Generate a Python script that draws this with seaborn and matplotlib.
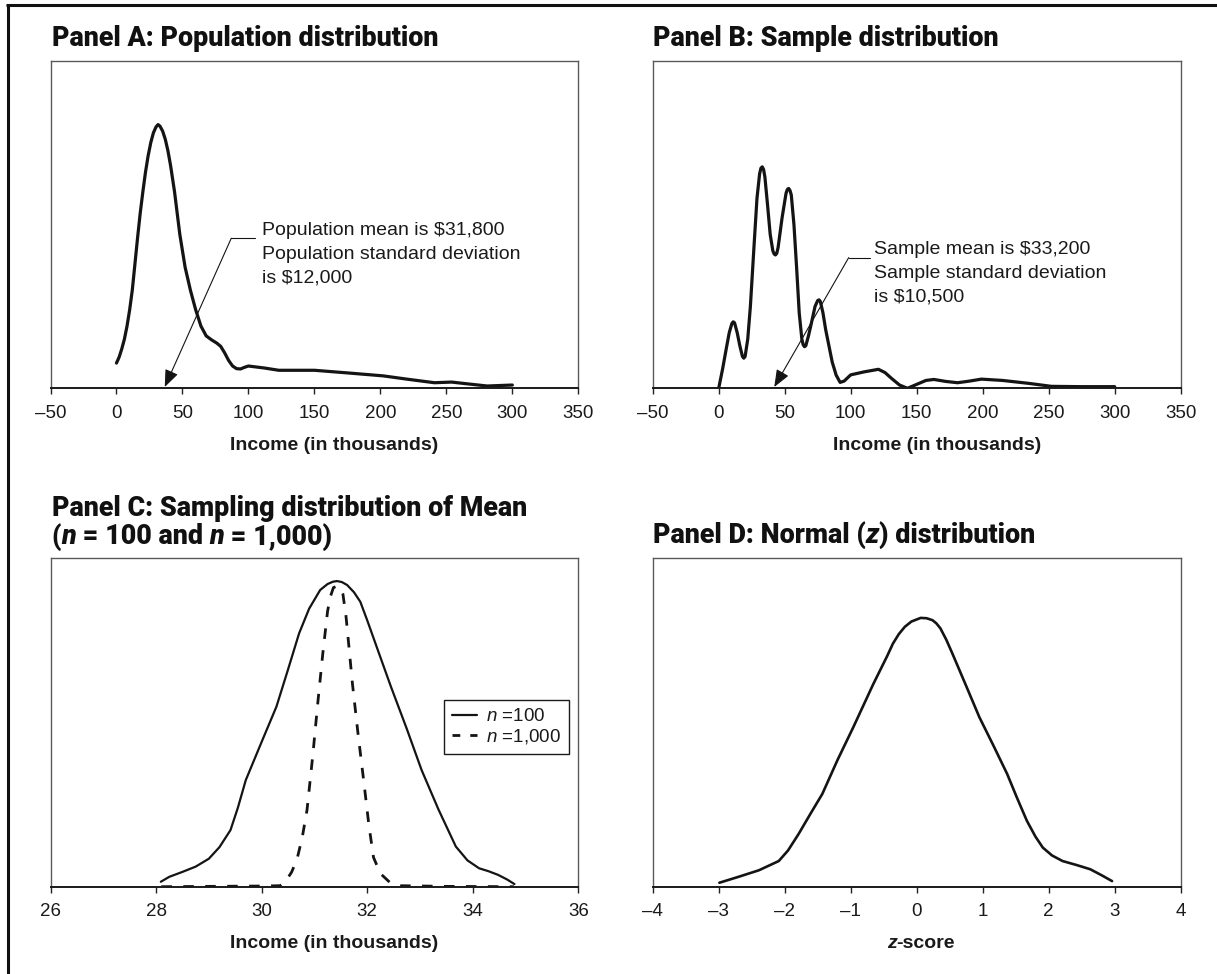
import matplotlib
matplotlib.use("Agg")
import matplotlib.pyplot as plt
import seaborn as sns
from matplotlib.lines import Line2D
from matplotlib.ticker import FixedLocator, FuncFormatter

# ---------------- data ----------------
# Panel A: population income density (relative height)
pop_income = [0, 2, 4, 6, 8, 10, 12, 14, 16, 18, 20, 22, 24, 26, 28, 30, 31.5, 33, 35, 37,
              39, 41, 44, 48, 52, 56, 60, 64, 68, 72, 76, 79, 82, 85, 88, 91, 94, 97, 100,
              112, 123, 150, 175, 202, 220, 241, 254, 265, 281, 300]
pop_density = [0.077, 0.095, 0.12, 0.15, 0.19, 0.24, 0.30, 0.38, 0.46, 0.535, 0.60, 0.66,
               0.71, 0.75, 0.78, 0.798, 0.805, 0.80, 0.785, 0.76, 0.725, 0.68, 0.60, 0.47,
               0.37, 0.30, 0.24, 0.19, 0.16, 0.148, 0.138, 0.128, 0.108, 0.085, 0.068, 0.060,
               0.059, 0.064, 0.068, 0.062, 0.055, 0.055, 0.047, 0.038, 0.028, 0.017, 0.019,
               0.014, 0.007, 0.010]

# Panel B: sample income density
sample_income = [0, 3, 6, 8, 10, 11, 12, 14, 16, 18, 19, 20, 22, 24, 27, 29, 31, 32, 33, 34,
                 35, 37, 39, 41, 42, 43, 44, 45, 48, 51, 52, 53, 54, 55, 57, 59, 61, 63, 64,
                 65, 66, 68, 70, 73, 75, 76, 77, 79, 81, 83, 86, 89, 92, 95, 100, 110, 121,
                 126, 131, 137, 143, 150, 157, 163, 172, 181, 190, 199, 215, 235, 252, 275,
                 300]
sample_density = [0.0, 0.06, 0.127, 0.17, 0.198, 0.203, 0.2, 0.17, 0.13, 0.097, 0.092,
                  0.097, 0.15, 0.25, 0.45, 0.58, 0.655, 0.672, 0.676, 0.668, 0.645, 0.56,
                  0.47, 0.42, 0.41, 0.407, 0.412, 0.43, 0.52, 0.595, 0.607, 0.61, 0.604,
                  0.59, 0.50, 0.37, 0.23, 0.15, 0.133, 0.127, 0.13, 0.16, 0.195, 0.25, 0.268,
                  0.27, 0.265, 0.23, 0.18, 0.14, 0.08, 0.04, 0.018, 0.022, 0.041, 0.05,
                  0.058, 0.048, 0.03, 0.01, 0.0, 0.012, 0.024, 0.027, 0.021, 0.017, 0.022,
                  0.028, 0.024, 0.015, 0.006, 0.005, 0.005]

# Panel C: sampling distributions of the mean
mean100_income = [28.09, 28.25, 28.5, 28.75, 29.0, 29.2, 29.41, 29.55, 29.70, 30.0, 30.28,
                  30.5, 30.71, 30.9, 31.11, 31.25, 31.35, 31.43, 31.52, 31.62, 31.75, 31.87,
                  32.0, 32.2, 32.45, 32.75, 33.03, 33.35, 33.68, 33.9, 34.12, 34.3, 34.48,
                  34.65, 34.79]
mean100_density = [0.015, 0.030, 0.045, 0.061, 0.085, 0.12, 0.172, 0.24, 0.324, 0.44, 0.547,
                   0.66, 0.770, 0.845, 0.902, 0.92, 0.927, 0.929, 0.926, 0.917, 0.895, 0.866,
                   0.81, 0.72, 0.608, 0.48, 0.355, 0.235, 0.122, 0.08, 0.056, 0.047, 0.036,
                   0.022, 0.008]
mean1000_income = [28.1, 29.0, 30.0, 30.35, 30.46, 30.57, 30.67, 30.77, 30.86, 30.97, 31.07,
                   31.16, 31.25, 31.31, 31.36, 31.43, 31.50, 31.54, 31.6, 31.66, 31.72, 31.83,
                   31.94, 32.03, 32.12, 32.25, 32.45, 32.63, 33.5, 34.78]
mean1000_density = [0.0, 0.001, 0.002, 0.003, 0.017, 0.045, 0.083, 0.15, 0.233, 0.40, 0.568,
                    0.71, 0.838, 0.885, 0.909, 0.914, 0.905, 0.890, 0.82, 0.72, 0.618, 0.46,
                    0.314, 0.19, 0.089, 0.04, 0.010, 0.003, 0.001, 0.0]

# Panel D: standard normal
z_values = [-2.99, -2.7, -2.39, -2.09, -1.95, -1.79, -1.6, -1.43, -1.2, -0.96, -0.66, -0.45,
            -0.36, -0.27, -0.18, -0.08, 0.06, 0.15, 0.24, 0.30, 0.36, 0.45, 0.54, 0.75, 0.95,
            1.16, 1.37, 1.52, 1.67, 1.8, 1.91, 2.05, 2.21, 2.42, 2.63, 2.8, 2.96]
z_density = [0.012, 0.030, 0.050, 0.078, 0.11, 0.160, 0.225, 0.282, 0.385, 0.485, 0.615,
             0.70, 0.739, 0.768, 0.790, 0.806, 0.817, 0.816, 0.81, 0.800, 0.785, 0.75, 0.709,
             0.61, 0.515, 0.43, 0.343, 0.27, 0.200, 0.152, 0.119, 0.095, 0.078, 0.066, 0.053,
             0.035, 0.017]

income_ticks = [-50, 0, 50, 100, 150, 200, 250, 300, 350]
mean_ticks = [26, 28, 30, 32, 34, 36]
z_ticks = [-4, -3, -2, -1, 0, 1, 2, 3, 4]

pop_note = ["Population mean is $31,800", "Population standard deviation", "is $12,000"]
sample_note = ["Sample mean is $33,200", "Sample standard deviation", "is $10,500"]
legend_labels = ["$n$ =100", "$n$ =1,000"]

# ---------------- style ----------------
sns.set_theme(style="white")
plt.rcParams["font.family"] = ["Liberation Sans", "DejaVu Sans"]
plt.rcParams["mathtext.fontset"] = "custom"
plt.rcParams["mathtext.rm"] = "Liberation Sans"
plt.rcParams["mathtext.it"] = "Liberation Sans:italic"

INK = "#141414"
W, H = 1217, 974
fig = plt.figure(figsize=(W / 100, H / 100), dpi=100)
renderer = fig.canvas.get_renderer()


def px_axes(left, top, right, bottom):
    return fig.add_axes([left / W, 1 - bottom / H, (right - left) / W, (bottom - top) / H])


axA = px_axes(50.5, 60.7, 578.3, 388.3)
axB = px_axes(652.7, 60.7, 1180.7, 388.3)
axC = px_axes(50.5, 557.7, 578.3, 886.7)
axD = px_axes(652.7, 557.7, 1180.7, 886.7)


def dash_fmt(v, pos):
    return f"{v:g}".replace("-", "\u2013")


def style_axes(ax, ticks):
    ax.set_xlim(ticks[0], ticks[-1])
    ax.set_ylim(0, 1)
    ax.set_yticks([])
    ax.set_ylabel("")
    ax.grid(False)
    ax.xaxis.set_major_locator(FixedLocator(ticks))
    ax.xaxis.set_major_formatter(FuncFormatter(dash_fmt))
    ax.tick_params(axis="x", bottom=True, direction="out", length=4.5, width=1.0,
                   color="#222222", pad=7.5, labelsize=13.5, labelcolor="#1a1a1a")
    for s in ["left", "top", "right"]:
        ax.spines[s].set_color("#5a5a5a")
        ax.spines[s].set_linewidth(1.0)
    ax.spines["bottom"].set_color("#1a1a1a")
    ax.spines["bottom"].set_linewidth(1.4)


def curve(ax, x, y, lw, dashes=None):
    sns.lineplot(x=x, y=y, ax=ax, color=INK, linewidth=lw, estimator=None,
                 sort=False, legend=False)
    ln = ax.lines[-1]
    ln.set_solid_capstyle("round")
    ln.set_solid_joinstyle("round")
    if dashes is not None:
        ln.set_dashes(dashes)
        ln.set_dash_capstyle("butt")
    return ln


curve(axA, pop_income, pop_density, 2.3)
curve(axB, sample_income, sample_density, 2.3)
curve(axC, mean100_income, mean100_density, 1.6)
curve(axC, mean1000_income, mean1000_density, 2.0, dashes=(3.8, 4.1))
curve(axD, z_values, z_density, 1.9)

style_axes(axA, income_ticks)
style_axes(axB, income_ticks)
style_axes(axC, mean_ticks)
style_axes(axD, z_ticks)

# x-axis labels
LABEL_KW = dict(fontsize=14, fontweight="bold", color="#1a1a1a")
for ax, yb in [(axA, -0.188), (axB, -0.188), (axC, -0.186)]:
    ax.set_xlabel("Income (in thousands)", **LABEL_KW)
    ax.xaxis.label.set_va("baseline")
    ax.xaxis.set_label_coords(0.538, yb)
axD.set_xlabel("")


# annotations with bent leader and arrow
def note(ax, lines, text_x, baselines, bend_x, elbow_end_x, bend_y, tip_x):
    tr = ax.get_xaxis_transform()
    for s, yb in zip(lines, baselines):
        ax.text(text_x, yb, s, transform=tr, ha="left", va="baseline",
                fontsize=14, color="#1a1a1a")
    ax.plot([bend_x, elbow_end_x], [bend_y, bend_y], transform=tr, color=INK, lw=0.8)
    ax.annotate("", xy=(tip_x, 0.004), xytext=(bend_x, bend_y), xycoords=tr, textcoords=tr,
                arrowprops=dict(arrowstyle="-|>,head_length=0.75,head_width=0.3",
                                color=INK, lw=0.8, shrinkA=0, shrinkB=0,
                                mutation_scale=14))


note(axA, pop_note, 110.2, [0.469, 0.396, 0.3236], 87.0, 105.2, 0.458, 36.6)
note(axB, sample_note, 117.9, [0.410, 0.338, 0.266], 98.5, 114.3, 0.399, 42.1)

# legend for panel C
handles = [Line2D([], [], color=INK, lw=1.6),
           Line2D([], [], color=INK, lw=2.0, dashes=(2.8, 3.6))]
leg = axC.legend(handles, legend_labels, loc="upper right", bbox_to_anchor=(0.982, 0.566),
                 borderaxespad=0, frameon=True, fancybox=False, framealpha=1,
                 edgecolor="#1a1a1a", fontsize=13.5, handlelength=1.3, handletextpad=0.5,
                 labelspacing=0.1, borderpad=0.42)
leg.get_frame().set_linewidth(1.0)
for t in leg.get_texts():
    t.set_color("#1a1a1a")


# ---------------- titles and rich text ----------------
def measure(s, kw):
    a = fig.text(0, 0, "x" + s + "x", **kw)
    b = fig.text(0, 0, "xx", **kw)
    w = a.get_window_extent(renderer).width - b.get_window_extent(renderer).width
    a.remove()
    b.remove()
    return w


def runs_text(runs, x_px, base_px, ha="left"):
    widths = [measure(s, kw) for s, kw in runs]
    if ha == "center":
        x_px -= sum(widths) / 2
    for (s, kw), w in zip(runs, widths):
        fig.text(x_px / W, 1 - base_px / H, s, ha="left", va="baseline", **kw)
        x_px += w


TITLE_FAMILY = ["Roboto", "DejaVu Sans"]
probe_kw = dict(family=TITLE_FAMILY, weight="black", size=20)
title_size = 20 * 388 / measure("Panel A: Population distribution", probe_kw)
T = dict(family=TITLE_FAMILY, weight="black", size=title_size, color="#111111")
TI = dict(T, style="italic")

runs_text([("Panel A: Population distribution", T)], 52.5, 45.5)
runs_text([("Panel B: Sample distribution", T)], 653.0, 45.5)
runs_text([("Panel C: Sampling distribution of Mean", T)], 51.5, 516.0)
runs_text([("(", T), ("n", TI), (" = 100 and ", T), ("n", TI), (" = 1,000)", T)], 51.5, 544.5)
runs_text([("Panel D: Normal (", T), ("z", TI), (") distribution", T)], 653.0, 543.0)

LB = dict(family=["Liberation Sans", "DejaVu Sans"], weight="bold", size=14, color="#1a1a1a")
runs_text([("z", dict(LB, style="italic")), ("-score", LB)], 921.0, 948.4, ha="center")

# outer frame (left and top rules)
fig.add_artist(Line2D([7.5 / W, 7.5 / W], [0, 1 - 4 / H], transform=fig.transFigure,
                      color="#111111", lw=2.2, solid_capstyle="butt"))
fig.add_artist(Line2D([6 / W, 1], [1 - 5.3 / H, 1 - 5.3 / H], transform=fig.transFigure,
                      color="#111111", lw=2.2, solid_capstyle="butt"))

fig.savefig("out.png", dpi=100)
